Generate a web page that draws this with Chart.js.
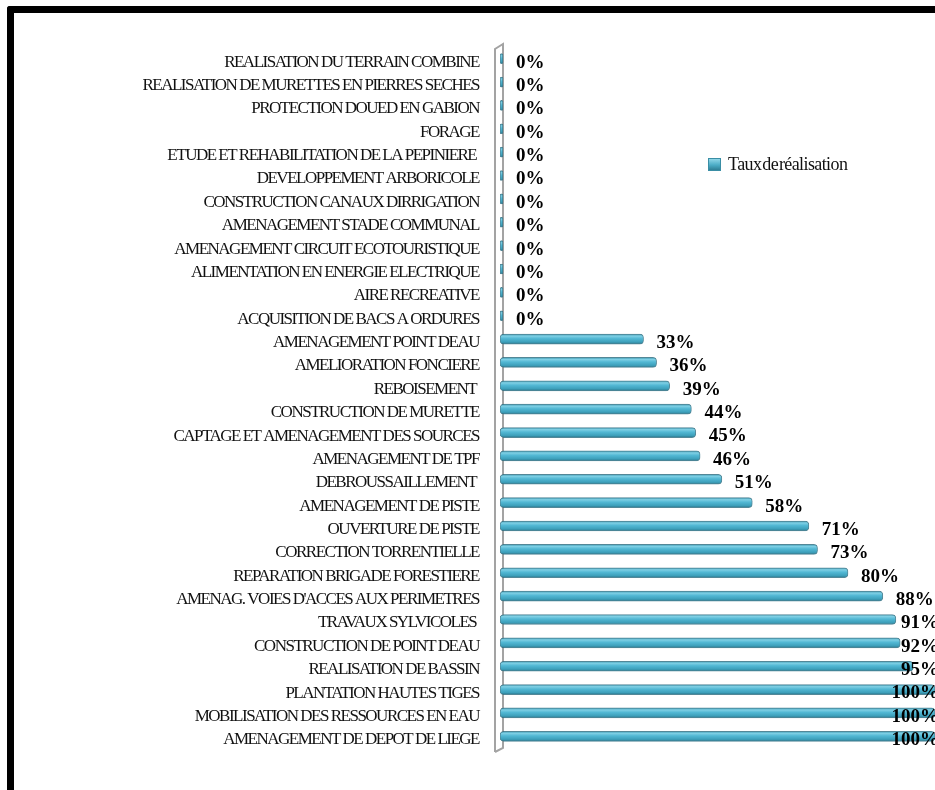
<!DOCTYPE html>
<html lang="fr">
<head>
  <meta charset="UTF-8">
  <title>Taux de réalisation</title>
  <script src="https://cdn.jsdelivr.net/npm/chart.js"></script>
  <style>
    html, body { margin: 0; padding: 0; background: #fff; }
    .wrap { position: relative; width: 935px; height: 790px; overflow: hidden; }
    .frame {
      position: absolute; left: 7px; top: 6px; width: 960px; height: 820px;
      border-left: 7px solid #000; border-top: 7px solid #000;
      border-top-left-radius: 3px;
    }
    canvas { position: absolute; left: 0; top: 0; }
    .legend {
      position: absolute; left: 708px; top: 154px;
      font-family: "Liberation Serif", "Times New Roman", serif;
      font-size: 18px; letter-spacing: -0.6px; word-spacing: -3px; color: #111;
      display: flex; align-items: center;
    }
    .legend span.box {
      display: inline-block; width: 11px; height: 11px; margin-right: 7px;
      background: linear-gradient(180deg, #8fd6e8 0%, #4bacc6 55%, #2f7f96 100%);
      border: 1px solid #3a8ea5;
    }
  </style>
</head>
<body>
  <div class="wrap">
    <div class="frame"></div>
    <canvas id="chart" width="935" height="790"></canvas>
    <div class="legend"><span class="box"></span>Taux de réalisation</div>
  </div>

  <script>
    // categories, de haut en bas
    const actions = [
      'REALISATION DU TERRAIN COMBINE',
      'REALISATION DE MURETTES EN PIERRES SECHES',
      'PROTECTION DOUED EN GABION',
      'FORAGE',
      'ETUDE ET REHABILITATION DE LA PEPINIERE ',
      'DEVELOPPEMENT ARBORICOLE',
      'CONSTRUCTION CANAUX DIRRIGATION',
      'AMENAGEMENT STADE COMMUNAL',
      'AMENAGEMENT CIRCUIT ECOTOURISTIQUE',
      'ALIMENTATION EN ENERGIE ELECTRIQUE',
      'AIRE RECREATIVE',
      'ACQUISITION DE BACS A ORDURES',
      'AMENAGEMENT POINT DEAU',
      'AMELIORATION FONCIERE',
      'REBOISEMENT ',
      'CONSTRUCTION DE MURETTE',
      'CAPTAGE ET AMENAGEMENT DES SOURCES',
      'AMENAGEMENT DE TPF',
      'DEBROUSSAILLEMENT ',
      'AMENAGEMENT DE PISTE',
      'OUVERTURE DE PISTE',
      'CORRECTION TORRENTIELLE',
      'REPARATION BRIGADE FORESTIERE',
      "AMENAG. VOIES D'ACCES AUX PERIMETRES",
      'TRAVAUX SYLVICOLES ',
      'CONSTRUCTION DE POINT DEAU',
      'REALISATION DE BASSIN',
      'PLANTATION HAUTES TIGES',
      'MOBILISATION DES RESSOURCES EN EAU',
      'AMENAGEMENT DE DEPOT DE LIEGE'
    ];

    // taux de réalisation (%)
    const taux = [
      0, 0, 0, 0, 0, 0, 0, 0, 0, 0, 0, 0,
      33, 36, 39, 44, 45, 46, 51, 58, 71, 73, 80, 88, 91, 92, 95, 100, 100, 100
    ];

    const serieLabel = 'Taux de réalisation';
    const ctx = document.getElementById('chart').getContext('2d');

    // dégradé "cylindre" pour chaque barre
    function cylindre(c) {
      const y = c.chart.scales.y;
      if (!y || y.top === undefined) return '#4bacc6';
      const py = y.getPixelForValue(c.dataIndex);
      const g = c.chart.ctx.createLinearGradient(0, py - 5, 0, py + 5);
      g.addColorStop(0, '#3a98b1');
      g.addColorStop(0.2, '#7fcfe4');
      g.addColorStop(0.45, '#52b8d4');
      g.addColorStop(0.8, '#3d9fba');
      g.addColorStop(1, '#2a7489');
      return g;
    }

    // écriture serrée des libellés
    const serre = {
      id: 'serre',
      beforeDraw(chart) { chart.ctx.letterSpacing = '-1.5px'; }
    };

    // paroi 3D de l'axe
    const paroi = {
      id: 'paroi',
      beforeDatasetsDraw(chart) {
        const a = chart.chartArea;
        const c = chart.ctx;
        c.save();
        c.strokeStyle = '#a3a3a3';
        c.lineWidth = 2;
        c.beginPath();
        c.moveTo(a.left - 5, a.bottom + 4);
        c.lineTo(a.left - 5, a.top + 2);
        c.lineTo(a.left + 3, a.top - 3);
        c.lineTo(a.left + 3, a.bottom);
        c.lineTo(a.left - 5, a.bottom + 4);
        c.stroke();
        c.restore();
      }
    };

    // étiquettes de valeurs
    const etiquettes = {
      id: 'etiquettes',
      afterDatasetsDraw(chart) {
        const c = chart.ctx;
        const meta = chart.getDatasetMeta(0);
        c.save();
        c.letterSpacing = '0px';
        c.font = 'bold 19px "Liberation Serif", "Times New Roman", serif';
        c.fillStyle = '#000';
        c.textBaseline = 'middle';
        c.textAlign = 'left';
        meta.data.forEach((bar, i) => {
          const txt = taux[i] + '%';
          const w = c.measureText(txt).width;
          const x = Math.min(bar.x + 13, chart.width - w + 4);
          c.fillText(txt, x, bar.y + 4);
        });
        c.restore();
      }
    };

    new Chart(ctx, {
      type: 'bar',
      data: {
        labels: actions,
        datasets: [{
          label: serieLabel,
          data: taux,
          backgroundColor: cylindre,
          borderColor: 'rgba(40, 105, 125, 0.8)',
          borderWidth: 1,
          borderRadius: 4,
          borderSkipped: false,
          barThickness: 10,
          minBarLength: 3
        }]
      },
      options: {
        indexAxis: 'y',
        responsive: false,
        animation: false,
        layout: { padding: { top: 47, bottom: 42, left: 0, right: 0 } },
        plugins: {
          legend: { display: false },
          tooltip: { enabled: false }
        },
        scales: {
          x: { display: false, min: 0, max: 100 },
          y: {
            grid: { display: false },
            border: { display: false },
            afterFit(scale) { scale.width = 500; },
            ticks: {
              autoSkip: false,
              padding: 13,
              labelOffset: 3.5,
              color: '#111',
              font: { family: '"Liberation Serif", "Times New Roman", serif', size: 17 }
            }
          }
        }
      },
      plugins: [serre, paroi, etiquettes]
    });
  </script>
</body>
</html>
